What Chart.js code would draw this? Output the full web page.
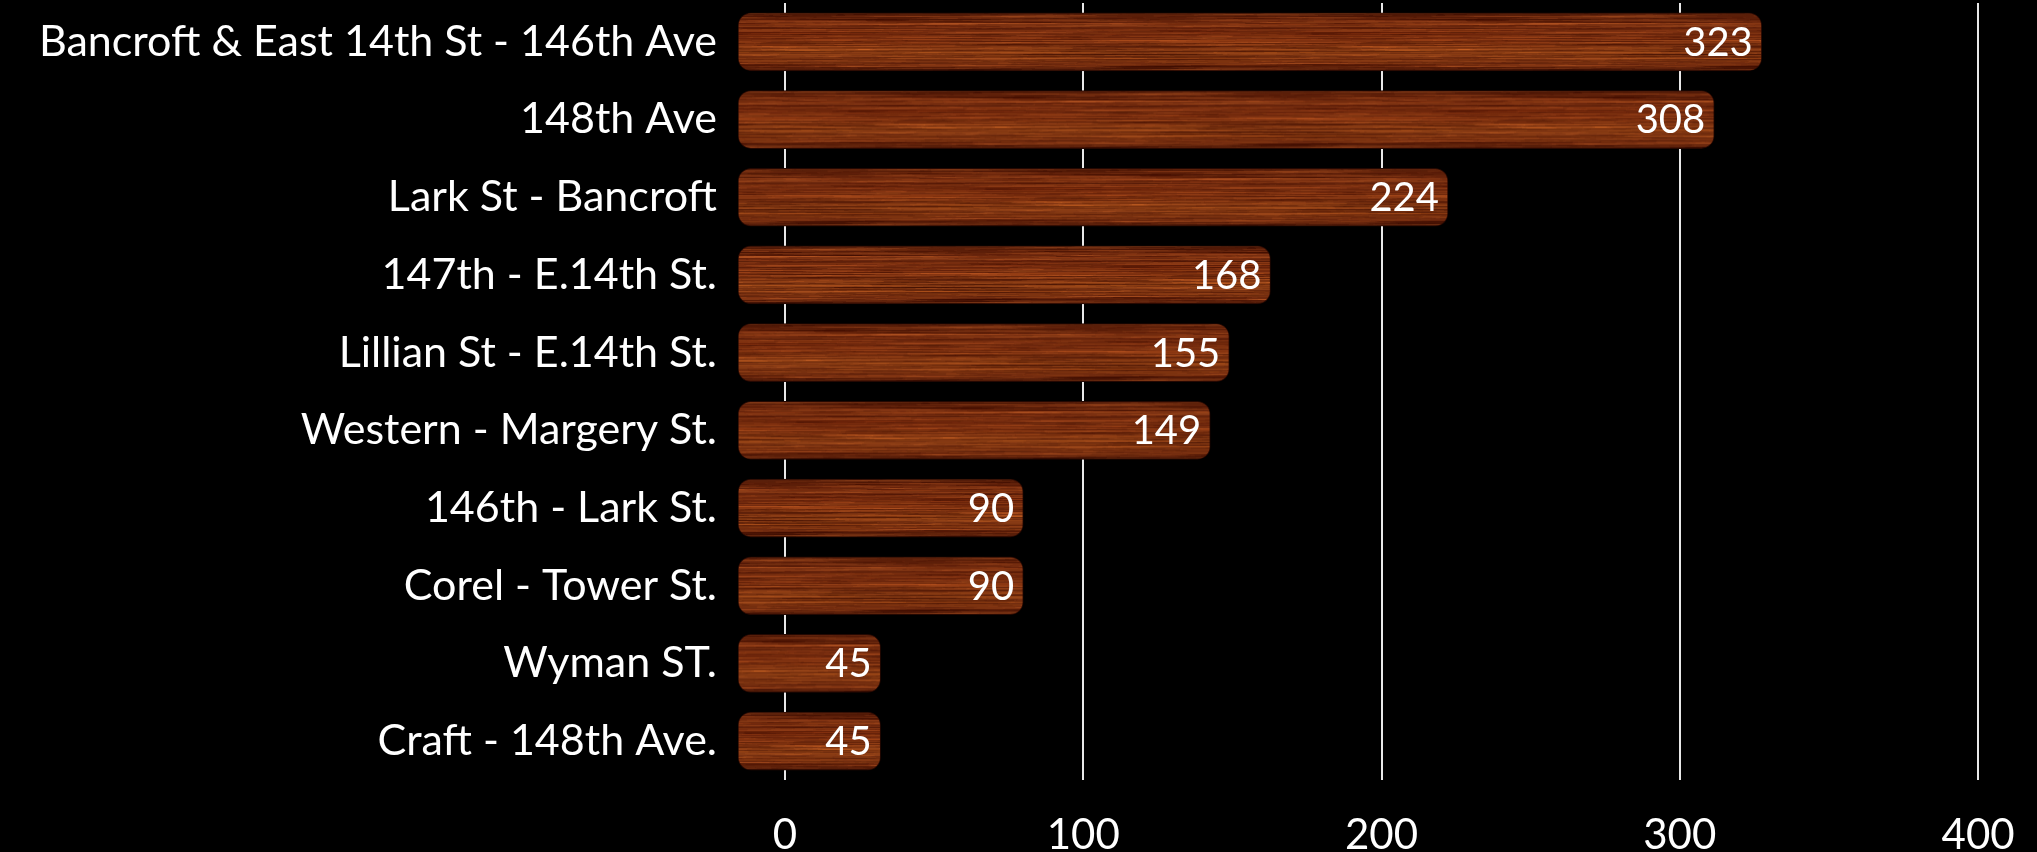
<!DOCTYPE html>
<html><head><meta charset="utf-8">
<script src="https://cdn.jsdelivr.net/npm/chart.js@4/dist/chart.umd.min.js"></script>
<style>html,body{margin:0;padding:0;background:#000;overflow:hidden}</style>
</head><body>
<canvas id="c" width="2037" height="852"></canvas>
<script>
const categories = [
  'Bancroft & East 14th St - 146th Ave',
  '148th Ave',
  'Lark St - Bancroft',
  '147th - E.14th St.',
  'Lillian St - E.14th St.',
  'Western - Margery St.',
  '146th - Lark St.',
  'Corel - Tower St.',
  'Wyman ST.',
  'Craft - 148th Ave.'
];
const values = [323, 308, 224, 168, 155, 149, 90, 90, 45, 45];
const tickValues = [0, 100, 200, 300, 400];

Chart.defaults.font.family = "Lato, 'Open Sans', sans-serif";
Chart.defaults.color = '#ffffff';

const BAR_H = 58;

// wood-grain texture tile (styling only)
function hash(i) { const s = Math.sin(i * 12.9898 + 78.233) * 43758.5453; return s - Math.floor(s); }
const tile = document.createElement('canvas');
tile.width = 600; tile.height = BAR_H;
(function () {
  const t = tile.getContext('2d');
  const g = t.createLinearGradient(0, 0, 0, BAR_H);
  g.addColorStop(0.0, '#360d02');
  g.addColorStop(0.07, '#561804');
  g.addColorStop(0.25, '#74260a');
  g.addColorStop(0.45, '#8c340f');
  g.addColorStop(0.66, '#ae5219');
  g.addColorStop(0.78, '#a44a16');
  g.addColorStop(0.91, '#6a2208');
  g.addColorStop(1.0, '#320c02');
  t.fillStyle = g;
  t.fillRect(0, 0, tile.width, BAR_H);
  for (let i = 0; i < 1700; i++) {
    const x = hash(i) * tile.width;
    const y = Math.floor(hash(i + 5000) * BAR_H);
    const len = 40 + hash(i + 9000) * 220;
    const dark = hash(i + 13000) < 0.55;
    t.fillStyle = dark ? 'rgba(50,10,0,0.14)' : 'rgba(230,125,60,0.09)';
    t.fillRect(x, y, len, 1);
    if (x + len > tile.width) t.fillRect(x - tile.width, y, len, 1);
  }
})();

function woodFill(ctx) {
  const chart = ctx.chart;
  const ys = chart.scales && chart.scales.y;
  if (!ys || ctx.dataIndex === undefined) return '#8a3410';
  const yc = ys.getPixelForValue(ctx.dataIndex);
  if (!isFinite(yc)) return '#8a3410';
  const p = chart.ctx.createPattern(tile, 'repeat');
  p.setTransform(new DOMMatrix().translate(ctx.dataIndex * 137, yc - BAR_H / 2));
  return p;
}

const valueLabels = {
  id: 'valueLabels',
  afterDatasetsDraw(chart) {
    const c = chart.ctx;
    const meta = chart.getDatasetMeta(0);
    c.save();
    c.fillStyle = '#ffffff';
    c.font = "40px Lato, 'Open Sans', sans-serif";
    c.textAlign = 'right';
    c.textBaseline = 'middle';
    meta.data.forEach((bar, i) => {
      c.fillText(String(values[i]), bar.x - 9, bar.y + 1);
    });
    c.restore();
  }
};

new Chart(document.getElementById('c'), {
  type: 'bar',
  data: {
    labels: categories,
    datasets: [{
      data: values,
      xAxisID: 'x',
      yAxisID: 'y',
      backgroundColor: woodFill,
      borderColor: '#240802',
      borderWidth: 1,
      borderSkipped: false,
      borderRadius: 13,
      barThickness: BAR_H
    }]
  },
  options: {
    indexAxis: 'y',
    responsive: false,
    animation: false,
    layout: { padding: { left: 10, right: 47, top: 3, bottom: 0 } },
    plugins: { legend: { display: false }, tooltip: { enabled: false } },
    scales: {
      x: {
        type: 'linear',
        display: false,
        min: 0,
        max: 395
      },
      x2: {
        type: 'linear',
        position: 'bottom',
        min: -15.76,
        max: 404.0,
        afterBuildTicks(scale) {
          scale.ticks = tickValues.map(v => ({ value: v }));
        },
        afterFit(scale) {
          scale.height = 72;
          scale.paddingLeft = 0; scale.paddingRight = 0;
        },
        grid: { color: '#e8e8e8', lineWidth: 2, drawTicks: false },
        border: { display: false },
        ticks: {
          color: '#ffffff',
          padding: 30,
          font: { size: 42 }
        }
      },
      y: {
        type: 'category',
        position: 'left',
        afterFit(scale) {
          scale.width = 728;
          scale.paddingTop = 0; scale.paddingBottom = 0;
        },
        grid: { display: false, drawTicks: false },
        border: { display: false },
        ticks: {
          color: '#ffffff',
          padding: 21,
          font: { size: 43 }
        }
      }
    }
  },
  plugins: [valueLabels]
});
</script>
</body></html>
